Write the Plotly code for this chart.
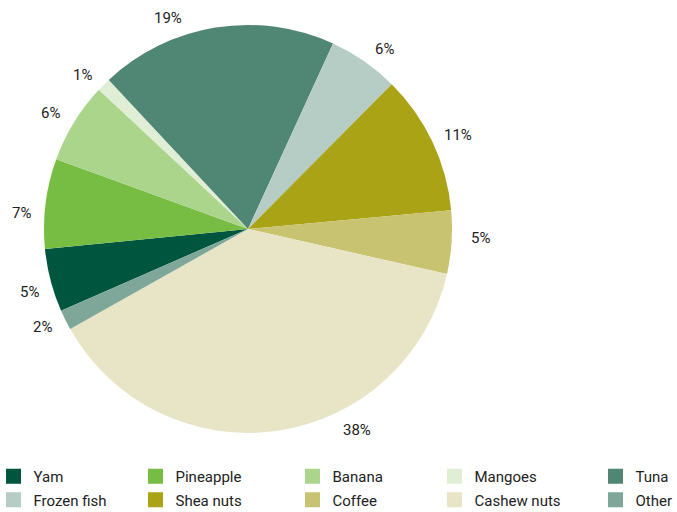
import math
import plotly.graph_objects as go

# Export shares by product (percent)
products = ["Yam", "Pineapple", "Banana", "Mangoes", "Tuna",
            "Frozen fish", "Shea nuts", "Coffee", "Cashew nuts", "Other"]
shares = [5.0, 7.1, 6.4, 1.1, 18.8, 5.6, 11.1, 5.0, 38.3, 1.6]
colors = ["#00553f", "#77bd43", "#acd58c", "#e0eed5", "#4f8674",
          "#b6cdc6", "#a9a315", "#c8c370", "#e8e5c7", "#7ea79a"]
# angular nudges (degrees) and distances (px) of the percentage labels
label_nudge = [-1.5, -3.2, -1.1, -2.0, -11.6, 2.4, 1.1, -1.5, -20.2, 1.1]
label_dist = [227, 227, 229, 226, 226, 226, 230, 233, 229, 228]

W, H = 677, 512
cx, cy, r = 248, 229, 204
rotation = 246.4
FONT = "Roboto"
TXT = "#222222"

# legend grid: swatch centres (px) of the five columns and two rows
legend_cols = [13.5, 155.5, 312.5, 454.5, 615.5]
legend_rows = [476.5, 500.0]

fig = go.Figure(go.Pie(
    labels=products,
    values=shares,
    sort=False,
    direction="clockwise",
    rotation=rotation,
    marker=dict(colors=colors, line=dict(width=0)),
    textinfo="none",
    showlegend=False,
    domain=dict(x=[(cx - r) / W, (cx + r) / W],
                y=[(H - cy - r) / H, (H - cy + r) / H]),
    hoverinfo="label+percent",
))

# percentage labels placed just outside each slice
total = sum(shares)
cum = 0.0
for s, nudge, dist in zip(shares, label_nudge, label_dist):
    mid = math.radians(rotation + (cum + s / 2) / total * 360 + nudge)
    cum += s
    px = cx + dist * math.sin(mid)
    py = cy - dist * math.cos(mid)
    fig.add_annotation(
        x=px / W, y=(H - py) / H, xref="paper", yref="paper",
        text=f"{s / total:.0%}", showarrow=False,
        xanchor="center", yanchor="middle",
        font=dict(family=FONT, size=15, color=TXT),
    )

# legend: one entry per product, laid out as a 5 x 2 grid
legend_layouts = {}
for i, (name, col) in enumerate(zip(products, colors)):
    key = "legend" if i == 0 else f"legend{i + 1}"
    fig.add_trace(go.Scatter(
        x=[None], y=[None], mode="markers", name=name,
        marker=dict(symbol="square", size=15, color=col),
        legend=key, showlegend=True, hoverinfo="skip",
    ))
    cxl = legend_cols[i % 5]
    cyl = legend_rows[i // 5]
    legend_layouts[key] = dict(
        x=(cxl - 20) / W, xanchor="left",
        y=(H - cyl) / H, yanchor="middle",
        bgcolor="rgba(0,0,0,0)", borderwidth=0,
        font=dict(family=FONT, size=15, color=TXT),
        itemclick=False, itemdoubleclick=False,
    )

fig.update_layout(
    width=W, height=H,
    margin=dict(l=0, r=0, t=0, b=0, autoexpand=False),
    paper_bgcolor="white",
    plot_bgcolor="white",
    font=dict(family=FONT, size=15, color=TXT),
    xaxis=dict(visible=False),
    yaxis=dict(visible=False),
    **legend_layouts,
)

fig.write_html("out.html")
